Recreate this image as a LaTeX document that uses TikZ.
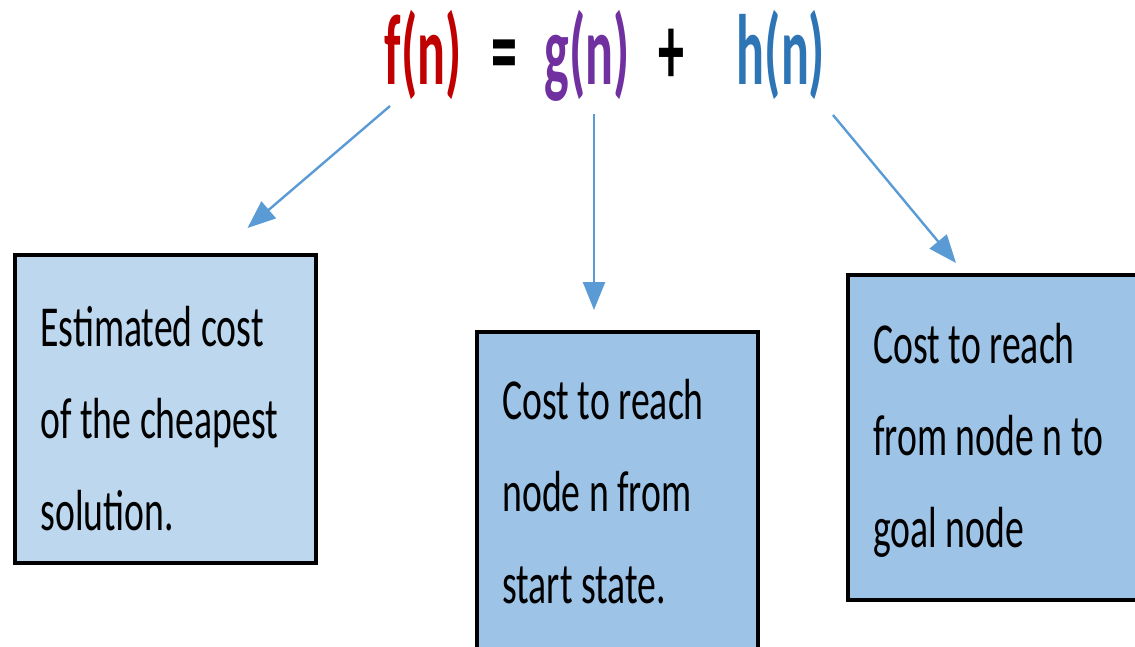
\documentclass[tikz,border=0pt]{standalone}
\usepackage{fontspec}
\setmainfont{Carlito}
\newfontfamily\formulafont[FakeStretch=0.52]{Carlito}
\newfontfamily\boxfont[FakeStretch=0.65]{Carlito}
\usetikzlibrary{arrows.meta,positioning,calc}

\definecolor{fred}{HTML}{C00000}
\definecolor{gpurple}{HTML}{7030A0}
\definecolor{hblue}{HTML}{2E75B6}
\definecolor{linkblue}{HTML}{5B9BD5}
\definecolor{boxlight}{HTML}{BDD7EE}
\definecolor{boxblue}{HTML}{9DC3E6}

\begin{document}
\begin{tikzpicture}[x=0.5pt, y=-0.5pt,
  term/.style={font=\formulafont\bfseries\fontsize{50}{52}\selectfont, inner sep=0pt, anchor=base},
  box/.style={rectangle, draw=black, line width=2pt, outer sep=0pt, anchor=north west},
  boxtext/.style={font=\boxfont\fontsize{29}{46}\selectfont, align=left, inner sep=0pt, anchor=base west},
  link/.style={draw=linkblue, line width=1.2pt, -{Triangle[length=14pt, width=11pt]}}]

  \useasboundingbox (0,0) rectangle (1135,647);

  % the formula
  \node[term, text=fred] (fn) at (423,85) {f(n)};
  \node[term] (eq) at (504,85) {=};
  \node[term, text=gpurple] (gn) at (587,85) {g(n)};
  \node[term] (plus) at (671,85) {+};
  \node[term, text=hblue] (hn) at (781,85) {h(n)};

  % the three boxes
  \node[box, fill=boxlight, minimum width=150.5pt, minimum height=154pt] (fbox) at (15,255) {};
  \node[box, fill=boxblue, minimum width=140.5pt, minimum height=170pt] (gbox) at (477,332) {};
  \node[box, fill=boxblue, minimum width=151pt, minimum height=162.5pt] (hbox) at (848,275) {};

  % base = last line
  \node[boxtext] (ftext) at (40,530) {Estimated cost\\of the cheapest\\solution.};
  \node[boxtext] (gtext) at (502,603) {Cost to reach\\node n from\\start state.};
  \node[boxtext] (htext) at (873,547) {Cost to reach\\from node n to\\goal node};

  \coordinate (fstart) at ($(fn.base)+(-33,21)$);
  \coordinate (ftip) at ($(fbox.north)+(82,-27)$);
  \coordinate (gstart) at ($(gn.base)+(7,29)$);
  \coordinate (gtip) at ($(gbox.north)+(-23.5,-22)$);
  \coordinate (hstart) at ($(hn.base)+(52,30)$);
  \coordinate (htip) at ($(hbox.north)+(-43,-12)$);

  \draw[link] (fstart) -- (ftip);
  \draw[link] (gstart) -- (gtip);
  \draw[link] (hstart) -- (htip);

\end{tikzpicture}
\end{document}
